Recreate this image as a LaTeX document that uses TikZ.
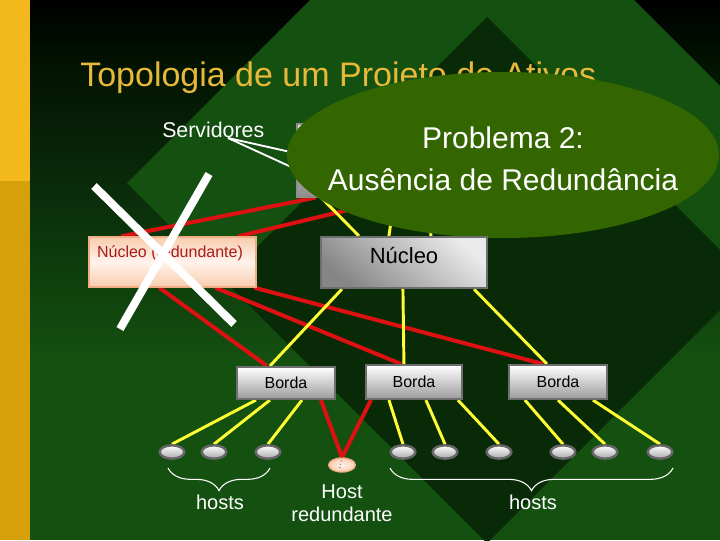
\documentclass[tikz,border=0pt]{standalone}
\usepackage{fontspec}
\setmainfont{Liberation Sans}
\usetikzlibrary{shapes.geometric,calc,decorations.pathreplacing}
\definecolor{dgreen}{HTML}{145010}
\definecolor{bgmid}{HTML}{0A2E0A}
\definecolor{bgdark}{HTML}{021202}
\definecolor{dband}{HTML}{092A07}
\definecolor{bartop}{HTML}{F3B81B}
\definecolor{barbot}{HTML}{D5A00A}
\definecolor{titlecol}{HTML}{E8B83A}
\definecolor{linered}{HTML}{DD1111}
\definecolor{lineyel}{HTML}{FFFF33}
\definecolor{boxrim}{HTML}{6E6E6E}
\definecolor{boxgrayb}{HTML}{9C9C9C}
\definecolor{hostrim}{HTML}{666666}
\definecolor{hostgrayb}{HTML}{A8A8A8}
\definecolor{peachA}{HTML}{F9CCAE}
\definecolor{peachB}{HTML}{FFF3EC}
\definecolor{peachrim}{HTML}{EDAE84}
\definecolor{redtext}{HTML}{A81C1C}
\definecolor{probfill}{HTML}{336600}
\definecolor{nucA}{HTML}{EAEAEA}
\definecolor{nucB}{HTML}{868686}
\definecolor{srvA}{HTML}{E0E0E0}
\definecolor{srvB}{HTML}{8E8E8E}
\pgfdeclarelayer{back}
\pgfdeclarelayer{lines}
\pgfdeclarelayer{over}
\pgfdeclarelayer{top}
\pgfsetlayers{back,lines,main,over,top}
\tikzset{
  redl/.style={draw=linered, line width=3pt},
  yell/.style={draw=lineyel, line width=2.2pt},
  wline/.style={draw=white, line width=1.4pt},
  xmark/.style={draw=white, line width=6pt},
  bracel/.style={draw=white, line width=0.8pt, decorate, decoration={brace, amplitude=17pt, mirror}},
  bordabox/.style={rectangle, draw=boxrim, line width=1.6pt, top color=white, bottom color=boxgrayb, minimum width=#1, inner sep=0, font=\fontsize{12}{14}\selectfont, text=black},
  hostnode/.style={ellipse, draw=hostrim, line width=1.8pt, top color=white, bottom color=hostgrayb, minimum width=18.5pt, minimum height=10pt, inner sep=0},
  lbl/.style={text=white, inner sep=0, font=\fontsize{15}{17.25}\selectfont}
}
\begin{document}
\begin{tikzpicture}[x=0.75pt,y=-0.75pt]
\useasboundingbox (0,0) rectangle (720,540);
\begin{pgfonlayer}{back}
\begin{scope}
\clip (0,0) rectangle (720,540);
\shade[top color=black, bottom color=bgdark] (0,0) rectangle (720,61);
\shade[top color=bgdark, bottom color=bgmid] (0,60) rectangle (720,201);
\shade[top color=bgmid, bottom color=dgreen] (0,200) rectangle (720,361);
\fill[dgreen] (0,360) rectangle (720,540);
\fill[dgreen] (127,183) -- (472,-162) -- (832,198) -- (487,543) -- cycle;
\fill[dband] (224,280) -- (487,17) -- (750,280) -- (487,543) -- cycle;
\fill[bartop] (0,0) rectangle (30,181);
\fill[barbot] (0,181) rectangle (30,540);
\end{scope}
\end{pgfonlayer}

% title and server label
\node[anchor=base west, text=titlecol, font=\fontsize{25.5}{30}\selectfont, inner sep=0] (title) at (80,86) {Topologia de um Projeto de Ativos};
\node[anchor=base west, text=white, font=\fontsize{16}{19}\selectfont, inner sep=0] (srvlabel) at (162,137) {Servidores};
\coordinate (callout) at (228,138);

% server box (mostly hidden)
\node[rectangle, draw=srvB, line width=1pt, top color=srvA, bottom color=srvB, minimum width=107.25pt, minimum height=54.75pt, inner sep=0] (srv) at (368.5,160.5) {};

% redundant core
\node[rectangle, draw=peachrim, line width=1pt, top color=peachA, bottom color=peachA, middle color=peachB, minimum width=125.25pt, minimum height=37.5pt, inner sep=0] (nucr) at (172.5,262) {};
\node[anchor=base, font=\fontsize{12}{14}\selectfont, text=redtext, inner sep=0] (nucrtext) at (170,257) {Núcleo (redundante)};

% edge switches
\node[bordabox=73.5pt, minimum height=24pt] (bl) at (286,383) {Borda};
\node[bordabox=72pt, minimum height=25.5pt] (bm) at (414,382) {Borda};
\node[bordabox=73.5pt, minimum height=25.5pt] (br) at (558,382) {Borda};

% hosts
\foreach \n/\x in {h1/172,h2/214,h3/268,h4/403,h5/445,h6/499,h7/563,h8/605,h9/660}
  \node[hostnode] (\n) at (\x,452) {};
\node[ellipse, draw=peachrim, line width=1pt, inner color=peachB, outer color=peachA, minimum width=20pt, minimum height=10.5pt, inner sep=0] (hr) at (342,465) {};
\coordinate (hrdot) at (339.5,470);
\draw[black, line width=0.5pt, dotted] (hr.north) -- (hrdot);

% braces and labels
\coordinate (b1s) at (168,468);
\coordinate (b1e) at (270,468);
\coordinate (b2s) at (390,468);
\coordinate (b2e) at (673,468);
\draw[bracel] (b1s) -- (b1e);
\draw[bracel] (b2s) -- (b2e);
\node[lbl, anchor=base] (hostsA) at (220,509) {hosts};
\node[lbl, anchor=base] (hostsB) at (533,509) {hosts};
\node[lbl, align=center] (hostred) at (342,503) {Host\\redundante};

% problem ellipse
\begin{pgfonlayer}{over}
\node[ellipse, fill=probfill, minimum width=324pt, minimum height=124.5pt, inner sep=0] (probl) at (503,155) {};
\node[align=center, text=white, font=\fontsize{22.5}{31.5}\selectfont, inner sep=0] (probtext) at (503,159) {Problema 2:\\Ausência de Redundância};
\end{pgfonlayer}

% core
\begin{pgfonlayer}{top}
\node[rectangle, draw=boxrim, line width=1.6pt, top color=nucA, bottom color=nucB, shading angle=-40, minimum width=124.5pt, minimum height=38.25pt, inner sep=0] (nuc) at (404,262.5) {};
\node[anchor=base, font=\fontsize{16.5}{20}\selectfont, inner sep=0] (nuctext) at (404,263) {Núcleo};
\coordinate (xa1) at (94,186);
\coordinate (xa2) at (234,324);
\coordinate (xb1) at (209,174);
\coordinate (xb2) at (120,329);
\draw[xmark] (xa1) -- (xa2);
\draw[xmark] (xb1) -- (xb2);
\end{pgfonlayer}

% connectors
\begin{pgfonlayer}{lines}
\draw[wline] (callout) -- ($(srv.north west)+(0,30)$);
\draw[wline] (callout) -- ($(srv.north west)+(0,46)$);
\draw[redl] ($(nucr.north west)+(33,0)$) -- ($(srv.south west)+(19,0)$);
\draw[redl] ($(nucr.north west)+(150,0)$) -- ($(srv.south west)+(103,0)$);
\draw[yell] ($(srv.south west)+(25,0)$) -- ($(nuc.north west)+(39,0)$);
\draw[yell] ($(srv.south west)+(98,0)$) -- ($(nuc.north west)+(69,0)$);
\draw[yell] ($(srv.south west)+(131,0)$) -- ($(nuc.north west)+(111,0)$);
\draw[redl] ($(nucr.south west)+(71,0)$) -- ($(bl.north west)+(31,0)$);
\draw[redl] ($(nucr.south west)+(127,0)$) -- ($(bm.north west)+(36,0)$);
\draw[redl] ($(nucr.south west)+(166,0)$) -- ($(br.north west)+(35,0)$);
\draw[yell] ($(nuc.south west)+(22,0)$) -- ($(bl.north west)+(34,0)$);
\draw[yell] ($(nuc.south west)+(83,0)$) -- ($(bm.north west)+(39,0)$);
\draw[yell] ($(nuc.south west)+(154,0)$) -- ($(br.north west)+(39,0)$);
\draw[yell] ($(bl.south west)+(20,0)$) -- (h1.north);
\draw[yell] ($(bl.south west)+(34,0)$) -- (h2.north);
\draw[yell] ($(bl.south west)+(66,0)$) -- (h3.north);
\draw[redl] ($(bl.south west)+(85,0)$) -- (hr.north);
\draw[redl] ($(bm.south west)+(6,0)$) -- (hr.north);
\draw[yell] ($(bm.south west)+(24,0)$) -- (h4.north);
\draw[yell] ($(bm.south west)+(61,0)$) -- (h5.north);
\draw[yell] ($(bm.south west)+(93,0)$) -- (h6.north);
\draw[yell] ($(br.south west)+(17,0)$) -- (h7.north);
\draw[yell] ($(br.south west)+(50,0)$) -- (h8.north);
\draw[yell] ($(br.south west)+(85,0)$) -- (h9.north);
\end{pgfonlayer}
\end{tikzpicture}
\end{document}
